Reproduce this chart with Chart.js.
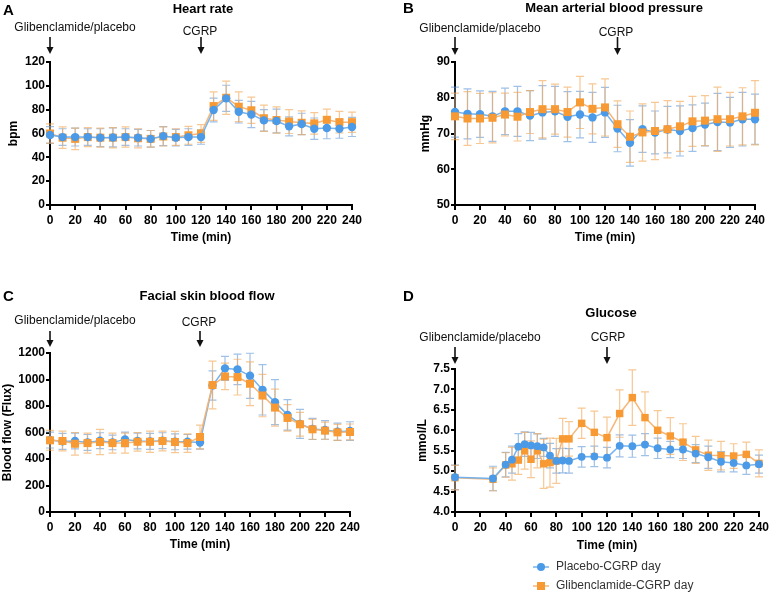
<!DOCTYPE html>
<html><head><meta charset="utf-8">
<script src="https://cdn.jsdelivr.net/npm/chart.js@4.4.0/dist/chart.umd.min.js"></script>
<style>
html,body{margin:0;padding:0;background:#fff;}
#wrap{position:relative;width:772px;height:595px;overflow:hidden;background:#fff;}
.p{position:absolute;}
</style></head><body>
<div id="wrap">
<div class="p" style="left:0;top:0;width:386px;height:250px"><canvas id="cA"></canvas></div>
<div class="p" style="left:386px;top:0;width:386px;height:250px"><canvas id="cB"></canvas></div>
<div class="p" style="left:0;top:285px;width:386px;height:275px"><canvas id="cC"></canvas></div>
<div class="p" style="left:386px;top:285px;width:386px;height:310px"><canvas id="cD"></canvas></div>
</div>
<script>
// ---------- DATA ----------
const timeStd = [0,10,20,30,40,50,60,70,80,90,100,110,120,130,140,150,160,170,180,190,200,210,220,230,240];
const timeGlucose = [0,30,40,45,50,55,60,65,70,75,80,85,90,100,110,120,130,140,150,160,170,180,190,200,210,220,230,240];
const seriesNames = ['Placebo-CGRP day','Glibenclamide-CGRP day'];

const hrPlacebo   = [58.7,57,57,57,56.5,56.7,57,56.5,55.5,57.8,56.5,57,57,79.7,89.5,78.3,76,71,70.5,66,68,64,64.6,64,65.5];
const hrPlaceboSD = [7,7,7.5,7,7.5,8,7,7,7,8,7,7,6,10,11,9.5,11,9,10,8,9,9,9,8,8];
const hrGlib      = [60,56.5,55.5,57,56.5,56.5,57,56,55.5,57.5,57,58.5,60,83,90,82.5,79.5,72.8,71.3,70,69,68.5,71.5,69.5,69.5];
const hrGlibSD    = [8,9,9,8,8,8.5,8.5,8,7,8,7,7.5,7.5,12,14,12.5,11,11,11,10,10,9,9,9,8.5];

const mapPlacebo   = [76.0,75.5,75.4,74.8,76.2,76.2,75.0,75.9,76.2,74.7,75.3,74.5,75.9,71.4,67.4,71.2,70.3,71.1,70.7,71.5,72.5,73.2,73.1,74.0,74.0];
const mapPlaceboSD = [7,7,6.5,7,6.5,7,7,7.5,7,7,6.5,7,7,6.5,6.5,6.5,6,6.5,7,6.5,6,8,7,7.5,7];
const mapGlib      = [74.8,74.2,74.2,74.4,75.3,74.7,76.0,76.8,76.8,76.0,78.7,76.9,77.3,72.6,69.1,70.3,70.7,71.2,72.0,73.4,73.6,74.0,74.0,74.8,75.8];
const mapGlibSD    = [6.5,7.5,7,7,6,6.8,6,8,7,7,7.3,7,8,6.5,7.2,8,8,8,7,7,7,9,7.5,8,9];

const flowPlacebo   = [543,533,536,525,538,525,548,536,533,538,530,530,525,955,1084,1076,1028,922,829,733,665,627,619,606,611];
const flowPlaceboSD = [60,60,60,60,60,55,55,60,60,60,60,55,50,110,90,115,170,190,170,115,110,80,70,65,70];
const flowGlib      = [541,536,515,520,528,520,520,530,530,536,528,520,566,958,1023,1018,968,879,788,710,662,624,614,601,604];
const flowGlibSD    = [75,75,85,75,95,75,75,70,80,75,80,70,90,180,100,135,165,160,140,100,90,75,65,60,60];

const gluPlacebo   = [4.85,4.82,5.16,5.28,5.60,5.66,5.63,5.61,5.58,5.38,5.25,5.26,5.25,5.35,5.36,5.33,5.62,5.61,5.65,5.56,5.53,5.53,5.43,5.34,5.23,5.20,5.14,5.17];
const gluPlaceboSD = [0.3,0.3,0.3,0.33,0.32,0.3,0.32,0.3,0.22,0.3,0.3,0.3,0.3,0.25,0.25,0.25,0.27,0.27,0.27,0.25,0.2,0.22,0.22,0.27,0.25,0.22,0.22,0.22];
const gluGlib      = [4.84,4.80,5.15,5.18,5.27,5.50,5.29,5.50,5.18,5.21,5.25,5.79,5.79,6.17,5.95,5.82,6.41,6.80,6.31,6.00,5.86,5.71,5.52,5.39,5.38,5.37,5.41,5.19];
const gluGlibSD    = [0.3,0.28,0.3,0.4,0.35,0.45,0.45,0.42,0.6,0.6,0.55,0.5,0.42,0.37,0.52,0.5,0.58,0.68,0.63,0.48,0.45,0.45,0.33,0.37,0.35,0.3,0.3,0.33];

// ---------- STYLE ----------
const FONT = "'Liberation Sans', Arial, Helvetica, sans-serif";
Chart.defaults.font.family = FONT;
Chart.defaults.color = '#000';
const BLUE = '#4a9ae8', BLUE_LINE = 'rgba(110,175,238,0.95)', BLUE_ERR = 'rgba(95,150,215,0.6)';
const ORANGE = '#f89a33', ORANGE_LINE = 'rgba(246,178,112,0.95)', ORANGE_ERR = 'rgba(242,170,90,0.65)';

function pts(t, v){ return t.map((x,i)=>({x:x, y:v[i]})); }

const errorBars = {
  id:'errorBars',
  beforeDatasetsDraw(chart){
    const {ctx, scales:{x,y}} = chart;
    chart.data.datasets.forEach(ds=>{
      if(!ds.errors) return;
      ctx.save();
      ctx.strokeStyle = ds.errorColor; ctx.lineWidth = 1.2;
      ds.data.forEach((p,j)=>{
        const px = x.getPixelForValue(p.x);
        const e = ds.errors[j];
        const yt = y.getPixelForValue(p.y+e), yb = y.getPixelForValue(p.y-e);
        ctx.beginPath();
        ctx.moveTo(px,yt); ctx.lineTo(px,yb);
        ctx.moveTo(px-4,yt); ctx.lineTo(px+4,yt);
        ctx.moveTo(px-4,yb); ctx.lineTo(px+4,yb);
        ctx.stroke();
      });
      ctx.restore();
    });
  }
};

const deco = {
  id:'deco',
  afterDraw(chart, args, o){
    const {ctx, scales:{x}} = chart;
    ctx.save();
    ctx.fillStyle = '#000';
    ctx.textBaseline = 'middle';
    ctx.font = 'bold 15px ' + FONT; ctx.textAlign = 'left';
    ctx.fillText(o.letter, o.letterX, o.letterY);
    ctx.font = 'bold 13px ' + FONT; ctx.textAlign = 'center';
    ctx.fillText(o.title, o.titleX, o.titleY);
    ctx.font = '12px ' + FONT;
    ctx.fillStyle = '#111'; ctx.strokeStyle = '#111';
    o.notes.forEach(n=>{
      ctx.fillText(n.text, n.x, n.y);
      const ax = x.getPixelForValue(n.at);
      ctx.lineWidth = 1.6;
      ctx.beginPath(); ctx.moveTo(ax, o.arrowTop); ctx.lineTo(ax, o.arrowBottom-5); ctx.stroke();
      ctx.beginPath(); ctx.moveTo(ax-3.5, o.arrowBottom-7); ctx.lineTo(ax+3.5, o.arrowBottom-7); ctx.lineTo(ax, o.arrowBottom); ctx.closePath(); ctx.fill();
    });
    if(o.legend){
      const L = o.legend;
      ctx.font = '12px ' + FONT; ctx.textAlign='left'; ctx.fillStyle='#333';
      chart.data.datasets.slice().sort((a,b)=>a.legendIdx-b.legendIdx).forEach((ds,i)=>{
        const yy = L.y + i*L.gap;
        ctx.strokeStyle = ds.borderColor; ctx.lineWidth = 1.5;
        ctx.beginPath(); ctx.moveTo(L.x, yy); ctx.lineTo(L.x+16, yy); ctx.stroke();
        ctx.fillStyle = ds.pointBackgroundColor;
        ctx.beginPath();
        if(ds.pointStyle==='rect') ctx.rect(L.x+8-4, yy-4, 8, 8); else ctx.arc(L.x+8, yy, 4, 0, Math.PI*2);
        ctx.fill();
        ctx.fillStyle='#333';
        ctx.fillText(ds.label, L.x+23, yy);
      });
    }
    ctx.restore();
  }
};

function makeChart(id, cfg){
  const datasets = [
    {label:seriesNames[0], legendIdx:0, data:pts(cfg.t,cfg.blue), errors:cfg.blueSD, errorColor:BLUE_ERR, clip:false,
     borderColor:BLUE_LINE, borderWidth:1.5, pointStyle:'circle', pointRadius:cfg.r||4.2, pointBackgroundColor:BLUE,
     pointBorderWidth:0, order:cfg.blueTop?1:2},
    {label:seriesNames[1], legendIdx:1, data:pts(cfg.t,cfg.orange), errors:cfg.orangeSD, errorColor:ORANGE_ERR, clip:false,
     borderColor:ORANGE_LINE, borderWidth:1.5, pointStyle:'rect', pointRadius:(cfg.r||4.2)*1.35, pointBackgroundColor:ORANGE,
     pointBorderWidth:0, order:cfg.blueTop?2:1}
  ];
  return new Chart(document.getElementById(id), {
    type:'line',
    data:{datasets},
    plugins:[errorBars, deco],
    options:{
      responsive:true, maintainAspectRatio:false, animation:false,
      layout:{padding:{top:cfg.padTop, right:cfg.padRight, left:0, bottom:cfg.padBottom||0}},
      plugins:{legend:{display:false}, tooltip:{enabled:false}, deco:cfg.deco},
      scales:{
        x:{type:'linear', min:0, max:240, afterFit:s=>{s.height=cfg.xH;},
           ticks:{stepSize:20, font:{size:12, weight:'bold'}, padding:3, color:'#000', maxRotation:0, autoSkip:false},
           grid:{drawOnChartArea:false, drawTicks:true, tickLength:5, color:'#000', lineWidth:2},
           border:{display:true, color:'#000', width:2},
           title:{display:true, text:'Time (min)', font:{size:12, weight:'bold'}, color:'#000', padding:{top:0,bottom:cfg.xTitlePad}}},
        y:{min:cfg.ymin, max:cfg.ymax, afterFit:s=>{s.width=cfg.yW;},
           ticks:{stepSize:cfg.ystep, font:{size:12, weight:'bold'}, padding:1, color:'#000',
                  callback:cfg.yfmt || (v=>v)},
           grid:{drawOnChartArea:false, drawTicks:true, tickLength:4, color:'#000', lineWidth:2},
           border:{display:true, color:'#000', width:2},
           title:{display:true, text:cfg.ytitle, font:{size:12, weight:'bold'}, color:'#000', padding:{top:cfg.yTitlePad,bottom:0}}}
      }
    }
  });
}

makeChart('cA', {t:timeStd, blue:hrPlacebo, blueSD:hrPlaceboSD, orange:hrGlib, orangeSD:hrGlibSD, blueTop:true,
  ymin:0, ymax:120, ystep:20, ytitle:'bpm', yW:50, yTitlePad:6, padTop:62, padRight:34, xH:45, xTitlePad:5,
  deco:{letter:'A', letterX:3, letterY:11, title:'Heart rate', titleX:203, titleY:9, arrowTop:37, arrowBottom:54,
        notes:[{text:'Glibenclamide/placebo', x:75, y:28, at:0},{text:'CGRP', x:200, y:32, at:120}]}});

makeChart('cB', {t:timeStd, blue:mapPlacebo, blueSD:mapPlaceboSD, orange:mapGlib, orangeSD:mapGlibSD, blueTop:false,
  ymin:50, ymax:90, ystep:10, ytitle:'mmHg', yW:69, yTitlePad:32, padTop:62, padRight:17, xH:45, xTitlePad:5,
  deco:{letter:'B', letterX:17, letterY:9, title:'Mean arterial blood pressure', titleX:228, titleY:8, arrowTop:37, arrowBottom:55,
        notes:[{text:'Glibenclamide/placebo', x:94, y:29, at:0},{text:'CGRP', x:230, y:33, at:130}]}});

makeChart('cC', {t:timeStd, blue:flowPlacebo, blueSD:flowPlaceboSD, orange:flowGlib, orangeSD:flowGlibSD, blueTop:false,
  ymin:0, ymax:1200, ystep:200, ytitle:'Blood flow (Flux)', yW:50, yTitlePad:0.5, padTop:68, padRight:36, xH:48, xTitlePad:8,
  deco:{letter:'C', letterX:3, letterY:12, title:'Facial skin blood flow', titleX:207, titleY:11, arrowTop:46, arrowBottom:62,
        notes:[{text:'Glibenclamide/placebo', x:75, y:36, at:0},{text:'CGRP', x:199, y:38, at:120}]}});

makeChart('cD', {t:timeGlucose, blue:gluPlacebo, blueSD:gluPlaceboSD, orange:gluGlib, orangeSD:gluGlibSD, blueTop:true, r:3.9,
  ymin:4, ymax:7.5, ystep:0.5, yfmt:(v=>v.toFixed(1)), ytitle:'mmol/L', yW:69, yTitlePad:29.5, padTop:84, padRight:10, xH:48, xTitlePad:7, padBottom:35,
  deco:{letter:'D', letterX:17, letterY:12, title:'Glucose', titleX:225, titleY:28, arrowTop:62, arrowBottom:79,
        notes:[{text:'Glibenclamide/placebo', x:94, y:53, at:0},{text:'CGRP', x:222, y:53, at:120}],
        legend:{x:147, y:282, gap:19}}});
</script>
</body></html>
